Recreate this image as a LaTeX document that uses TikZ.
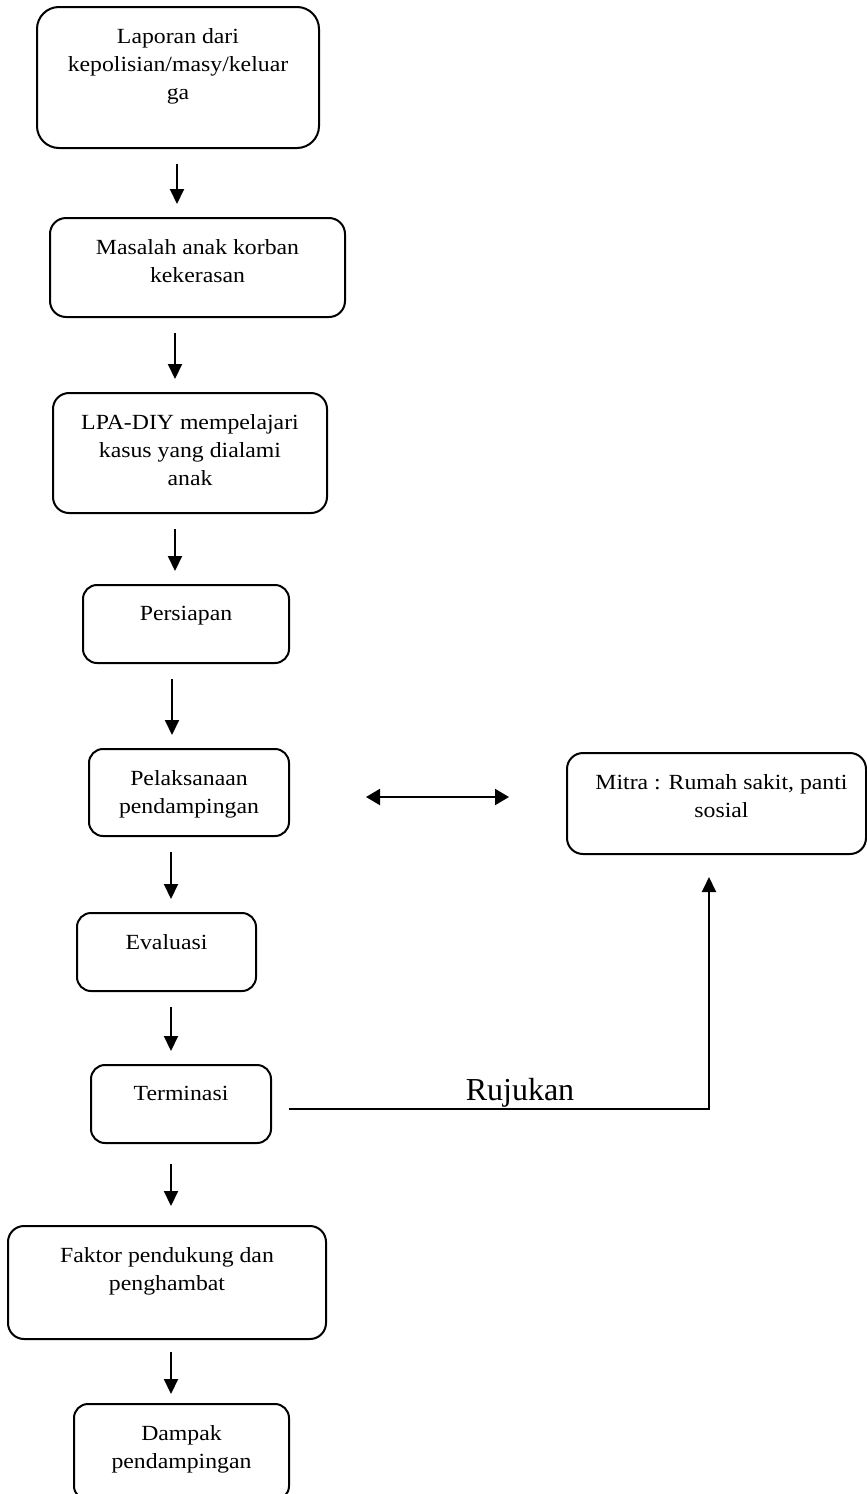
\documentclass[tikz,border=0pt]{standalone}
\usepackage{fontspec}
\setmainfont{Liberation Serif}
\newfontfamily\isifont{Liberation Serif}[FakeStretch=1.1]
\usetikzlibrary{arrows.meta}

\tikzset{
  kotak/.style={draw,line width=1pt,rounded corners=7pt,inner sep=0pt},
  isi/.style={align=center,inner sep=0pt,font=\isifont\fontsize{10.8}{14}\selectfont},
  panah/.style={line width=1pt,-{Triangle[length=7.5pt,width=7pt]}},
  panahdua/.style={line width=1pt,{Triangle[length=7pt,width=8pt]}-{Triangle[length=7pt,width=8pt]}},
  turun/.style={panah,shorten <=7.5pt,shorten >=6.5pt}
}

\begin{document}
\begin{tikzpicture}[x=.5pt,y=-.5pt]
  \useasboundingbox (0,0) rectangle (867,1494);
  \clip (0,0) rectangle (867,1494);
  % kotak alur utama (koordinat dalam piksel gambar)
  \node[kotak,rounded corners=11pt,minimum width=141pt,minimum height=70.5pt] (lapor) at (178,77.5) {};
  \node[kotak,rounded corners=8pt,minimum width=147.5pt,minimum height=49.5pt] (masalah) at (197.5,267.5) {};
  \node[kotak,rounded corners=8pt,minimum width=137pt,minimum height=60pt] (lpa) at (190,453) {};
  \node[kotak,minimum width=103pt,minimum height=39pt] (siap) at (186,624) {};
  \node[kotak,minimum width=100pt,minimum height=43.5pt] (laksana) at (189,792.5) {};
  \node[kotak,minimum width=89.5pt,minimum height=39pt] (evaluasi) at (166.5,952) {};
  \node[kotak,minimum width=90pt,minimum height=39pt] (terminasi) at (181,1104) {};
  \node[kotak,rounded corners=8pt,minimum width=159pt,minimum height=56.5pt] (faktor) at (167,1282.5) {};
  \node[kotak,minimum width=107.5pt,minimum height=48pt] (dampak) at (181.5,1452) {};
  \node[kotak,rounded corners=8pt,minimum width=149.5pt,minimum height=50.5pt] (mitra) at (716.5,803.5) {};

  % isi kotak, rata atas seperti kotak teks
  \node[isi,anchor=north] (tlapor) at ([yshift=-11pt]lapor.north) {Laporan dari\\kepolisian/masy/keluar\\ga};
  \node[isi,anchor=north] (tmasalah) at ([yshift=-11pt]masalah.north) {Masalah anak korban\\kekerasan};
  \node[isi,anchor=north] (tlpa) at ([yshift=-11pt]lpa.north) {LPA-DIY mempelajari\\kasus yang dialami\\anak};
  \node[isi,anchor=north] (tsiap) at ([yshift=-11pt]siap.north) {Persiapan};
  \node[isi,anchor=north] (tlaksana) at ([yshift=-11pt]laksana.north) {Pelaksanaan\\pendampingan};
  \node[isi,anchor=north] (tevaluasi) at ([yshift=-11pt]evaluasi.north) {Evaluasi};
  \node[isi,anchor=north] (tterminasi) at ([yshift=-11pt]terminasi.north) {Terminasi};
  \node[isi,anchor=north] (tfaktor) at ([yshift=-11pt]faktor.north) {Faktor pendukung dan\\penghambat};
  \node[isi,anchor=north] (tdampak) at ([yshift=-11pt]dampak.north) {Dampak\\pendampingan};
  \node[isi,anchor=north] (tmitra) at ([xshift=2.5pt,yshift=-11pt]mitra.north) {Mitra : Rumah sakit, panti\\sosial};

  % panah ke bawah
  \draw[turun] (177,0 |- lapor.south) -- (177,0 |- masalah.north);
  \draw[turun] (175,0 |- masalah.south) -- (175,0 |- lpa.north);
  \draw[turun] (175,0 |- lpa.south) -- (175,0 |- siap.north);
  \draw[turun] (172,0 |- siap.south) -- (172,0 |- laksana.north);
  \draw[turun] (171,0 |- laksana.south) -- (171,0 |- evaluasi.north);
  \draw[turun] (171,0 |- evaluasi.south) -- (171,0 |- terminasi.north);
  \draw[turun,shorten <=10pt,shorten >=9.5pt] (171,0 |- terminasi.south) -- (171,0 |- faktor.north);
  \draw[turun,shorten <=6pt,shorten >=4.5pt] (171,0 |- faktor.south) -- (171,0 |- dampak.north);

  % hubungan dengan mitra
  \coordinate (kiri) at (366,797);
  \coordinate (kanan) at (509,797);
  \draw[panahdua] (kiri) -- (kanan);
  \draw[panah] ([shift={(8.5pt,-2.5pt)}]terminasi.east) -| ([shift={(-3.75pt,-11pt)}]mitra.south);
  \node[font=\fontsize{16}{18}\selectfont,anchor=base] (rujukan) at (520,1100) {Rujukan};
\end{tikzpicture}
\end{document}
